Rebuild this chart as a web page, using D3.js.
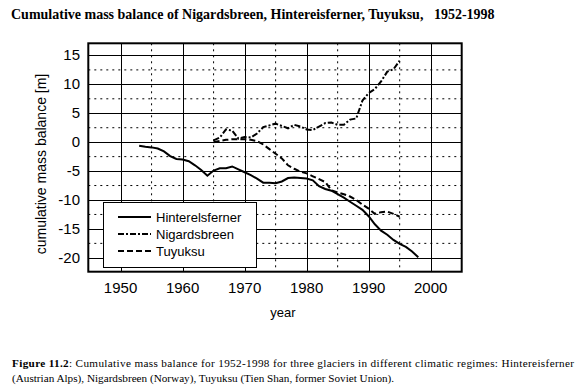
<!DOCTYPE html>
<meta charset="utf-8">
<style>
body { margin: 0; background: #fff; }
text { font-family: "Liberation Sans", Arial, sans-serif; fill: #000; }
.serif { font-family: "Liberation Serif", "Times New Roman", serif; white-space: pre; }
</style>
<svg width="578" height="388"></svg>
<script src="https://cdn.jsdelivr.net/npm/d3@7/dist/d3.min.js"></script>
<script>

// cumulative mass balance [m]
var hinterYears = d3.range(1953, 1999);
var hinterValues = [-0.6, -0.8, -0.9, -1.1, -1.6, -2.4, -2.9, -3.0, -3.3, -4.0,
    -4.8, -5.8, -4.9, -4.5, -4.5, -4.2, -4.7, -5.2, -5.7, -6.3,
    -7.0, -7.0, -7.1, -6.8, -6.2, -6.1, -6.2, -6.3, -6.6, -7.6,
    -8.1, -8.4, -9.0, -9.6, -10.3, -11.0, -11.7, -12.8, -14.2, -15.3,
    -16.0, -16.9, -17.6, -18.1, -18.9, -19.9];

var nigYears = d3.range(1965, 1996);
var nigValues = [0.3, 0.8, 2.2, 2.0, 0.6, 0.9, 0.8, 1.5, 2.6, 2.9,
    3.2, 2.8, 2.4, 3.0, 2.7, 2.2, 2.1, 2.7, 3.3, 3.4,
    3.0, 3.0, 3.9, 4.1, 7.2, 8.5, 9.2, 10.5, 12.2, 12.6, 14.1];

var tuyYears = d3.range(1965, 1996);
var tuyValues = [0.0, 0.2, 0.4, 0.5, 0.5, 0.5, 0.4, 0.2, -0.4, -1.2,
    -2.0, -2.8, -4.0, -4.6, -5.1, -5.4, -5.9, -6.4, -6.9, -8.3,
    -8.7, -9.0, -9.4, -10.0, -10.8, -11.5, -12.4, -12.1, -12.0, -12.4, -12.9];

var xTicks = [1950, 1960, 1970, 1980, 1990, 2000];
var xMinor = [1955, 1965, 1975, 1985, 1995];
var yTicks = [15, 10, 5, 0, -5, -10, -15, -20];
var yMinor = [12.5, 7.5, 2.5, -2.5, -7.5, -12.5, -17.5];

var seriesNames = ["Hinterelsferner", "Nigardsbreen", "Tuyuksu"];

var svg = d3.select("svg");

var x = d3.scaleLinear()
    .domain([1944.8, 2005])
    .range([88.3, 461.7]);

var y = d3.scaleLinear()
    .domain([-22.4, 17.1])
    .range([271.7, 43.3]);

var dashes = ["none", "6,2,2,2", "6,3"];

svg.append("text")
    .attr("class", "serif")
    .attr("x", 11)
    .attr("y", 19)
    .attr("font-size", "14px")
    .attr("font-weight", "bold")
    .text("Cumulative mass balance of Nigardsbreen, Hintereisferner, Tuyuksu,   1952-1998");

// grid
svg.selectAll(".vmin").data(xMinor).enter().append("line")
    .attr("x1", d => x(d)).attr("x2", d => x(d))
    .attr("y1", y.range()[1]).attr("y2", y.range()[0])
    .attr("stroke", "#000").attr("stroke-dasharray", "2,4");
svg.selectAll(".hmin").data(yMinor).enter().append("line")
    .attr("y1", d => y(d)).attr("y2", d => y(d))
    .attr("x1", x.range()[0]).attr("x2", x.range()[1])
    .attr("stroke", "#000").attr("stroke-dasharray", "2,4");
svg.selectAll(".vmaj").data(xTicks).enter().append("line")
    .attr("x1", d => Math.round(x(d)) + 0.5).attr("x2", d => Math.round(x(d)) + 0.5)
    .attr("y1", y.range()[1]).attr("y2", y.range()[0])
    .attr("stroke", "#000");
svg.selectAll(".hmaj").data(yTicks).enter().append("line")
    .attr("y1", d => Math.round(y(d)) + 0.5).attr("y2", d => Math.round(y(d)) + 0.5)
    .attr("x1", x.range()[0]).attr("x2", x.range()[1])
    .attr("stroke", "#000");

// tick labels
svg.selectAll(".xl").data(xTicks).enter().append("text")
    .attr("x", d => x(d))
    .attr("y", 293)
    .attr("text-anchor", "middle")
    .attr("font-size", "15px")
    .text(d => d);
svg.selectAll(".yl").data(yTicks).enter().append("text")
    .attr("x", 80)
    .attr("y", d => y(d) + 5)
    .attr("text-anchor", "end")
    .attr("font-size", "15px")
    .text(d => d);

svg.append("text")
    .attr("x", 283).attr("y", 317)
    .attr("text-anchor", "middle")
    .attr("font-size", "13px")
    .text("year");
svg.append("text")
    .attr("transform", "translate(46,164) rotate(-90)")
    .attr("text-anchor", "middle")
    .attr("font-size", "14px")
    .text("cumulative mass balance [m]");

// lines
var line = d3.line().x(d => x(d[0])).y(d => y(d[1]));
var series = [
    d3.zip(hinterYears, hinterValues),
    d3.zip(nigYears, nigValues),
    d3.zip(tuyYears, tuyValues)
];
svg.selectAll(".series").data(series).enter().append("path")
    .attr("d", line)
    .attr("fill", "none")
    .attr("stroke", "#000")
    .attr("stroke-width", 2)
    .attr("stroke-dasharray", (d, i) => dashes[i]);

// frame
svg.append("rect")
    .attr("x", x.range()[0]).attr("y", y.range()[1])
    .attr("width", x.range()[1] - x.range()[0])
    .attr("height", y.range()[0] - y.range()[1])
    .attr("fill", "none").attr("stroke", "#000").attr("stroke-width", 2);

// legend
var legend = svg.append("g").attr("transform", "translate(103,202)");
legend.append("rect")
    .attr("x", 0.5).attr("y", 0.5).attr("width", 153).attr("height", 65)
    .attr("fill", "#fff").attr("stroke", "#000");
for (var i = 0; i < seriesNames.length; i++) {
    legend.append("line")
        .attr("x1", 15).attr("x2", 48)
        .attr("y1", 15 + 17 * i).attr("y2", 15 + 17 * i)
        .attr("stroke", "#000").attr("stroke-width", 2)
        .attr("stroke-dasharray", dashes[i]);
    legend.append("text")
        .attr("x", 53).attr("y", 20 + 17 * i)
        .attr("font-size", "13px")
        .text(seriesNames[i]);
}

// caption
var cap = svg.append("text").attr("class", "serif").attr("x", 12).attr("y", 367)
    .attr("font-size", "11.2px")
    .attr("textLength", 562);
cap.append("tspan").attr("font-weight", "bold").text("Figure 11.2");
cap.append("tspan").text(": Cumulative mass balance for 1952-1998 for three glaciers in different climatic regimes: Hintereisferner");
svg.append("text").attr("class", "serif").attr("x", 12).attr("y", 382)
    .attr("font-size", "11.2px")
    .text("(Austrian Alps), Nigardsbreen (Norway), Tuyuksu (Tien Shan, former Soviet Union).");

</script>
